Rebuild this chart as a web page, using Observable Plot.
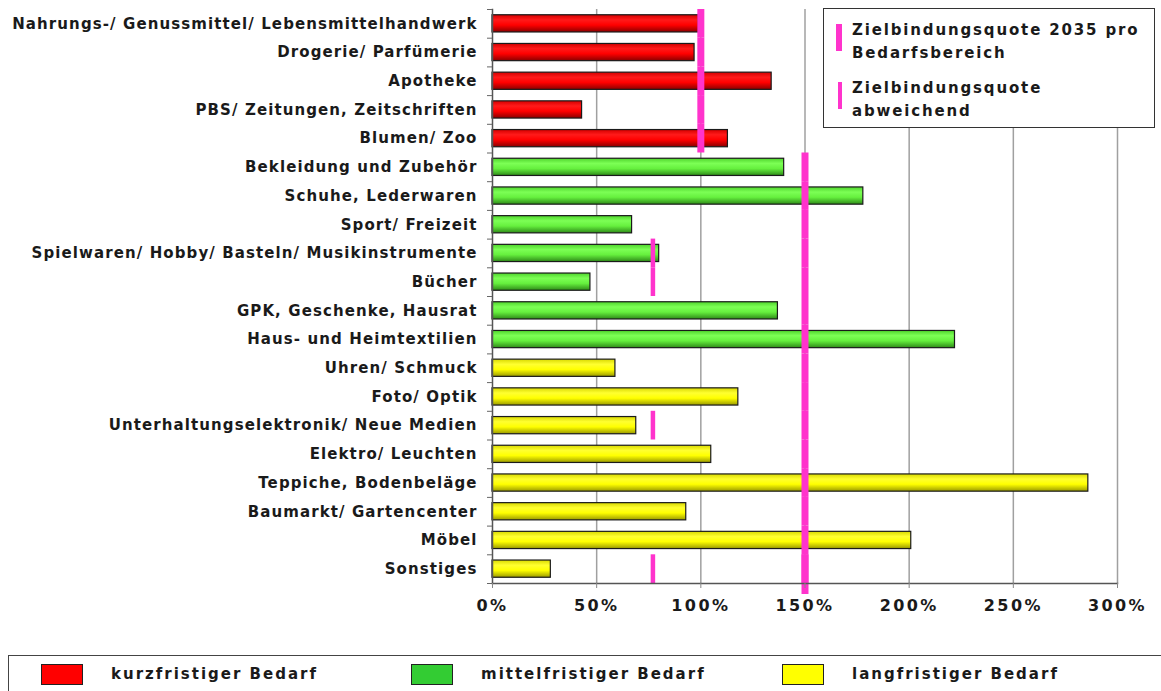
<!DOCTYPE html>
<html>
<head>
<meta charset="utf-8">
<script src="https://cdn.jsdelivr.net/npm/d3@7"></script>
<script src="https://cdn.jsdelivr.net/npm/@observablehq/plot@0.6"></script>
<style>
  body { margin: 0; background: #fff; }
  #wrap { position: relative; width: 1161px; height: 691px; overflow: hidden; font-family: "DejaVu Sans", sans-serif; font-weight: bold; color: #1a1a1a; }
  #legendTop { position: absolute; left: 823px; top: 8px; width: 332px; height: 120px; border: 1.5px solid #333; background: #fff; box-sizing: border-box; }
  .lt-item { position: absolute; left: 28px; font-size: 15px; line-height: 23px; letter-spacing: 1.85px; white-space: nowrap; }
  .lt-mark { position: absolute; background: #ff33cc; }
  #legendBottom { position: absolute; left: 8px; top: 655px; width: 1170px; height: 50px; border: 1.5px solid #444; box-sizing: border-box; }
  .lb-sw { position: absolute; top: 8px; width: 42px; height: 21px; border: 1.5px solid #222; box-sizing: border-box; }
  .lb-tx { position: absolute; top: 8px; font-size: 15px; line-height: 21px; letter-spacing: 2px; white-space: nowrap; }
  #chart [aria-label="y-axis tick label"] text { letter-spacing: 1.1px; }
  #chart [aria-label="x-axis tick label"] text { letter-spacing: 2.4px; }
</style>
</head>
<body>
<div id="wrap">
  <div id="chart"></div>
  <div id="legendTop"></div>
  <div id="legendBottom"></div>
</div>
<script>
const categories = [
  "Nahrungs-/ Genussmittel/ Lebensmittelhandwerk",
  "Drogerie/ Parfümerie",
  "Apotheke",
  "PBS/ Zeitungen, Zeitschriften",
  "Blumen/ Zoo",
  "Bekleidung und Zubehör",
  "Schuhe, Lederwaren",
  "Sport/ Freizeit",
  "Spielwaren/ Hobby/ Basteln/ Musikinstrumente",
  "Bücher",
  "GPK, Geschenke, Hausrat",
  "Haus- und Heimtextilien",
  "Uhren/ Schmuck",
  "Foto/ Optik",
  "Unterhaltungselektronik/ Neue Medien",
  "Elektro/ Leuchten",
  "Teppiche, Bodenbeläge",
  "Baumarkt/ Gartencenter",
  "Möbel",
  "Sonstiges"
];
const values = [99, 97, 134, 43, 113, 140, 178, 67, 80, 47, 137, 222, 59, 118, 69, 105, 286, 93, 201, 28];
const groups = ["kurz","kurz","kurz","kurz","kurz",
  "mittel","mittel","mittel","mittel","mittel","mittel","mittel",
  "lang","lang","lang","lang","lang","lang","lang","lang"];
const groupNames = ["kurz", "mittel", "lang"];
const groupLabels = ["kurzfristiger Bedarf", "mittelfristiger Bedarf", "langfristiger Bedarf"];
const groupTargets = [100, 150, 150];
const deviatingCategories = ["Spielwaren/ Hobby/ Basteln/ Musikinstrumente", "Bücher", "Unterhaltungselektronik/ Neue Medien", "Sonstiges"];
const deviatingValues = [77, 77, 77, 77];
const xTicks = [0, 50, 100, 150, 200, 250, 300];
const legendTopLabels = [["Zielbindungsquote 2035 pro", "Bedarfsbereich"], ["Zielbindungsquote", "abweichend"]];

const groupFill = {kurz: "url(#gRed)", mittel: "url(#gGreen)", lang: "url(#gYellow)"};
const swatchColors = ["#ff0000", "#33cc33", "#ffff00"];
const pink = "#ff33cc";

const data = categories.map((c, i) => ({
  cat: c, value: values[i], group: groups[i],
  target: groupTargets[groupNames.indexOf(groups[i])]
}));
const deviating = deviatingCategories.map((c, i) => ({cat: c, value: deviatingValues[i]}));

const H = 640, mTop = 9, mBottom = 57;
const step = (H - mTop - mBottom) / categories.length;
const ext = -0.2 * step;

const bars = groupNames.map(g => Plot.barX(data.filter(d => d.group === g), {
  x: "value", y: "cat", fill: groupFill[g], stroke: "#1a1a1a", strokeWidth: 1.2
}));

const plot = Plot.plot({
  width: 1161, height: H,
  marginLeft: 492, marginRight: 44, marginTop: mTop, marginBottom: mBottom,
  style: {fontFamily: "DejaVu Sans, sans-serif", fontWeight: "bold", fontSize: "15px", color: "#1a1a1a", background: "#fff"},
  x: {domain: [0, 300]},
  y: {domain: categories, paddingInner: 0.4, paddingOuter: 0.2, round: false},
  marks: [
    Plot.ruleX(xTicks.filter(d => d > 0), {stroke: "#a0a0a0", strokeWidth: 1.5}),
    ...bars,
    Plot.tickX(data, {x: "target", y: "cat", stroke: pink, strokeWidth: 7, insetTop: ext, insetBottom: ext}),
    Plot.tickX(data.filter(d => d.cat === "Sonstiges"), {x: "target", y: "cat", stroke: pink, strokeWidth: 7, insetTop: ext, insetBottom: ext - 11}),
    Plot.tickX(deviating, {x: "value", y: "cat", stroke: pink, strokeWidth: 4.5, insetTop: ext, insetBottom: ext}),
    Plot.frame({anchor: "left", stroke: "#555", strokeWidth: 1.5}),
    Plot.frame({anchor: "bottom", stroke: "#555", strokeWidth: 1.5}),
    Plot.axisY({tickSize: 5, text: null, label: null, dy: -step / 2, stroke: "#666"}),
    Plot.axisY(categories.slice(-1), {tickSize: 5, text: null, label: null, dy: step / 2, stroke: "#666"}),
    Plot.axisX({ticks: xTicks, tickFormat: d => d + "%", tickSize: 5, tickPadding: 11, stroke: "#888", fontSize: 16, label: null}),
    Plot.axisY({tickSize: 0, tickPadding: 15, fontSize: 15, label: null})
  ]
});

// gradients for the 3D-looking bars
const svgEl = plot.tagName.toLowerCase() === "svg" ? plot : plot.querySelector("svg");
const defs = d3.select(svgEl).insert("defs", ":first-child");
const grads = {
  gRed: [["0%", "#d40000"], ["30%", "#ff1a1a"], ["60%", "#ff0000"], ["100%", "#8a0000"]],
  gGreen: [["0%", "#4ed42c"], ["30%", "#7cff55"], ["60%", "#66f03e"], ["100%", "#2e8a18"]],
  gYellow: [["0%", "#d8d800"], ["30%", "#ffff30"], ["60%", "#ffff00"], ["100%", "#9a9a00"]]
};
for (const [id, stops] of Object.entries(grads)) {
  const g = defs.append("linearGradient").attr("id", id).attr("x1", 0).attr("y1", 0).attr("x2", 0).attr("y2", 1);
  for (const [o, c] of stops) g.append("stop").attr("offset", o).attr("stop-color", c);
}
document.getElementById("chart").appendChild(plot);

// top-right legend
const lt = document.getElementById("legendTop");
legendTopLabels.forEach((lines, i) => {
  const top = i === 0 ? 10 : 68;
  const m = document.createElement("div");
  m.className = "lt-mark";
  m.style.left = (i === 0 ? 12 : 14) + "px";
  m.style.width = (i === 0 ? 6 : 4) + "px";
  m.style.top = (top + 5) + "px";
  m.style.height = "27px";
  lt.appendChild(m);
  const t = document.createElement("div");
  t.className = "lt-item";
  t.style.top = top + "px";
  t.innerHTML = lines.join("<br>");
  lt.appendChild(t);
});

// bottom legend
const lb = document.getElementById("legendBottom");
const swX = [32, 402, 773];
groupLabels.forEach((lab, i) => {
  const s = document.createElement("div");
  s.className = "lb-sw";
  s.style.left = swX[i] + "px";
  s.style.background = swatchColors[i];
  lb.appendChild(s);
  const t = document.createElement("div");
  t.className = "lb-tx";
  t.style.left = (swX[i] + 70) + "px";
  t.textContent = lab;
  lb.appendChild(t);
});
</script>
</body>
</html>
